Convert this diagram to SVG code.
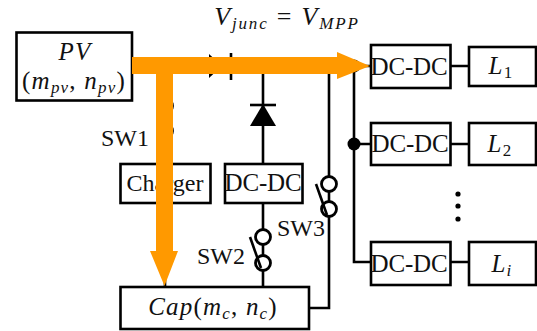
<svg xmlns="http://www.w3.org/2000/svg" width="537" height="331" viewBox="0 0 537 331">
<style>
.b{fill:#fff;stroke:#000;stroke-width:2.6}
.w{fill:none;stroke:#000;stroke-width:2.6}
.c{fill:#fff;stroke:#000;stroke-width:2.8}
.t{font-family:"Liberation Serif",serif;font-size:24px;fill:#111;text-anchor:middle}
.d{font-size:25px;letter-spacing:-.2px}
.e{font-size:25px;letter-spacing:1.200px}
.v{font-size:26px;letter-spacing:1.800px}
.m{font-style:italic}
.s{font-size:17px}
</style>
<rect width="537" height="331" fill="#fff"/>
<g id="connectors">
<path class="w" d="M132 66H370M165 66V287M263 66V164M263 203V287M329 66V308H309M354 66V262H371M354 144H371M450 66H469M450 144H469M450 262H469"/>
<path d="M209 54L222 66L209 78Z" fill="#000"/>
<path class="w" d="M231 53V80"/>
<path d="M250 126L263 104L276 126Z" fill="#000"/>
<path class="w" d="M250 105H276"/>
<circle cx="354" cy="144" r="6.500" fill="#000"/>
<circle cx="354" cy="66" r="6.500" fill="#000"/>
</g>
<g id="sw1"><circle class="c" cx="165" cy="106" r="7.500"/><circle class="c" cx="165" cy="131" r="7.500"/><text class="t" x="125" y="146">SW1</text></g>
<g id="sw2"><circle class="c" cx="263" cy="237" r="7.500"/><circle class="c" cx="263" cy="263" r="7.500"/><path class="w" d="M250 237L261 268"/><text class="t" x="221" y="264">SW2</text></g>
<g id="sw3"><circle class="c" cx="329" cy="184" r="7.500"/><circle class="c" cx="329" cy="209" r="7.500"/><path class="w" d="M316 184L327 215"/><text class="t" x="301" y="236">SW3</text></g>
<g id="pv"><rect class="b" x="16.500" y="32.500" width="115.500" height="68"/><text class="t m e" x="75" y="60">PV</text><text class="t e" x="74" y="89">(<tspan class="m">m</tspan><tspan class="m s" dy="4">pv</tspan><tspan dy="-4">, </tspan><tspan class="m">n</tspan><tspan class="m s" dy="4">pv</tspan><tspan dy="-4">)</tspan></text></g>
<g id="charger"><rect class="b" x="120.500" y="164" width="90" height="39"/><text class="t" x="165" y="191">Charger</text></g>
<g id="dcdc0"><rect class="b" x="225" y="164" width="77.500" height="39"/><text class="t d" x="263" y="191">DC-DC</text></g>
<g id="cap"><rect class="b" x="120.500" y="287" width="188.500" height="42"/><text class="t e" x="213" y="315"><tspan class="m">Cap</tspan>(<tspan class="m">m</tspan><tspan class="m s" dy="4">c</tspan><tspan dy="-4">, </tspan><tspan class="m">n</tspan><tspan class="m s" dy="4">c</tspan><tspan dy="-4">)</tspan></text></g>
<g id="dcdc1"><rect class="b" x="371" y="45" width="79.500" height="43"/><text class="t d" x="409" y="75">DC-DC</text></g>
<g id="dcdc2"><rect class="b" x="371" y="123" width="79.500" height="42"/><text class="t d" x="410" y="152">DC-DC</text></g>
<g id="dcdci"><rect class="b" x="371" y="242" width="79.500" height="43"/><text class="t d" x="409" y="272">DC-DC</text></g>
<g id="l1"><rect class="b" x="469" y="47" width="67" height="39"/><text class="t e" x="501" y="74"><tspan class="m">L</tspan><tspan class="s" dy="4">1</tspan></text></g>
<g id="l2"><rect class="b" x="469" y="123" width="67" height="42"/><text class="t e" x="500" y="152"><tspan class="m">L</tspan><tspan class="s" dy="4">2</tspan></text></g>
<g id="li"><rect class="b" x="469" y="242" width="67" height="43"/><text class="t e" x="502" y="272"><tspan class="m">L</tspan><tspan class="m s" dy="4">i</tspan></text></g>
<g id="dots" fill="#000"><circle cx="458" cy="194" r="2.600"/><circle cx="458" cy="206" r="2.600"/><circle cx="458" cy="219" r="2.600"/></g>
<g id="flow" fill="#ff9900"><path d="M132 57H337V52L370 66L337 79V74H173V251H178L164.500 286L150 251H156V74H132Z"/></g>
<text id="vjunc" class="t v" x="287" y="25"><tspan class="m">V</tspan><tspan class="m s" dy="4">junc</tspan><tspan dy="-4"> = </tspan><tspan class="m">V</tspan><tspan class="m s" dy="4">MPP</tspan></text>
</svg>
